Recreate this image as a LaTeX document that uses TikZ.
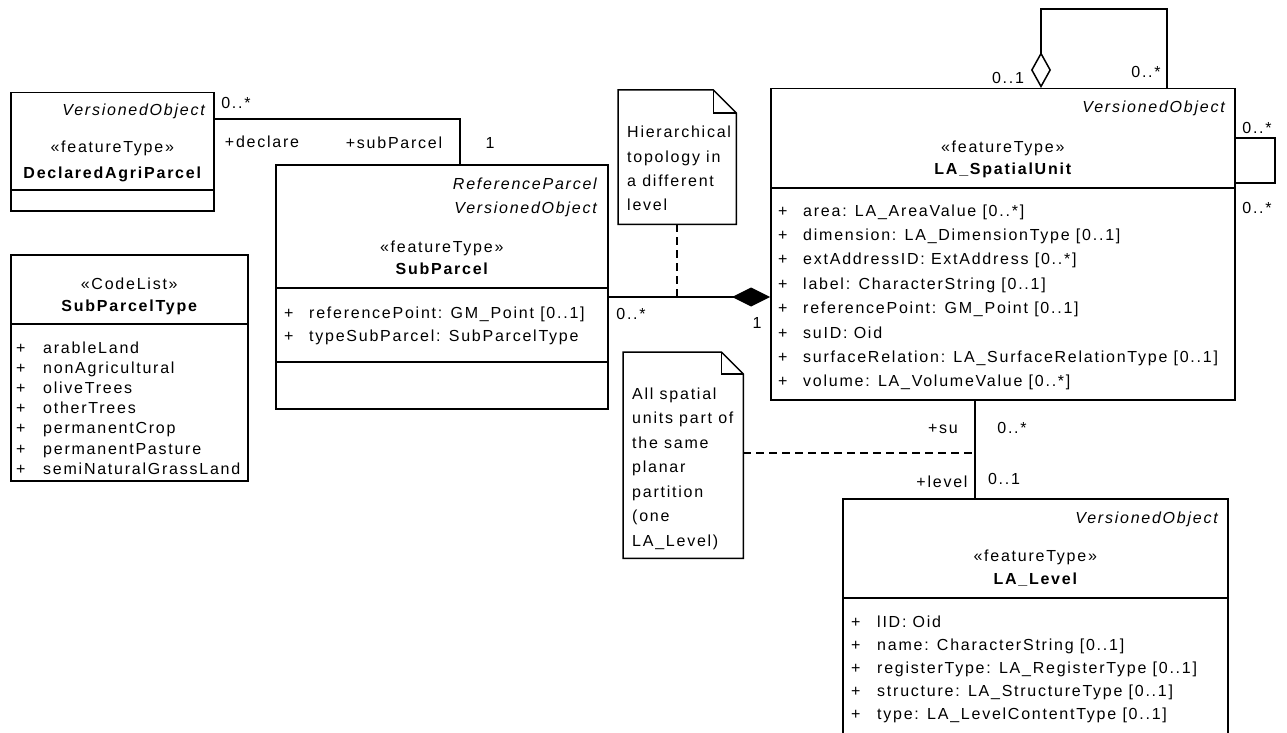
\documentclass[tikz,border=0pt]{standalone}
\usepackage{fontspec}
\setmainfont{Liberation Sans}[LetterSpace=11]
\usetikzlibrary{positioning,arrows.meta}
\tikzset{
  cls/.style={draw, line width=1.5pt, anchor=north west, inner sep=0pt},
  nte/.style={anchor=north west, inner sep=0pt},
  tx/.style={inner sep=0pt, anchor=base},
  txl/.style={inner sep=0pt, anchor=base west},
  txr/.style={inner sep=0pt, anchor=base east},
  ln/.style={line width=1.5pt},
  comp/.style={line width=1.5pt, -{Diamond[length=38pt,width=19pt]}},
  aggr/.style={line width=1.5pt, {Diamond[open,fill=white,length=36pt,width=20pt]}-},
  lnk/.style={line width=1.5pt, dash pattern=on 8pt off 5pt},
  umldiag/.style={x=1pt, y=-1pt, font=\fontsize{16}{19}\selectfont}
}

\begin{document}
\begin{tikzpicture}[umldiag]
\useasboundingbox (0,0) rectangle (1287,733);

% class boxes
\node[cls, minimum width=203pt, minimum height=118pt] (dap) at (10,92) {};
\node[cls, minimum width=237pt, minimum height=226pt] (spt) at (10,254) {};
\node[cls, minimum width=332pt, minimum height=244pt] (sp) at (275,164) {};
\node[cls, minimum width=464pt, minimum height=311pt] (su) at (770,88) {};
\node[cls, minimum width=385pt, minimum height=260pt] (lv) at (842,498) {};

% DeclaredAgriParcel
\node[txr] at (205,116) {\itshape VersionedObject};
\node[tx] at (dap.north |- 0,153) {«featureType»};
\node[tx] at (dap.north |- 0,178) {\bfseries DeclaredAgriParcel};
\draw[ln] (dap.west |- 0,190) -- (dap.east |- 0,190);

% SubParcelType
\node[tx] at (spt.north |- 0,289) {«CodeList»};
\node[tx] at (spt.north |- 0,311) {\bfseries SubParcelType};
\draw[ln] (spt.west |- 0,324) -- (spt.east |- 0,324);
\foreach \a [count=\i from 0] in {{arableLand},{nonAgricultural},{oliveTrees},{otherTrees},{permanentCrop},{permanentPasture},{semiNaturalGrassLand}}{
  \node[txl] at (16,353+20.2*\i) {+};
  \node[txl] at (43,353+20.2*\i) {\a};
}

% SubParcel
\node[txr] at (597,189) {\itshape ReferenceParcel};
\node[txr] at (597,213) {\itshape VersionedObject};
\node[tx] at (sp.north |- 0,252) {«featureType»};
\node[tx] at (sp.north |- 0,274) {\bfseries SubParcel};
\draw[ln] (sp.west |- 0,288) -- (sp.east |- 0,288);
\foreach \a [count=\i from 0] in {{referencePoint: GM\_Point [0..1]},{typeSubParcel: SubParcelType}}{
  \node[txl] at (284,318+23*\i) {+};
  \node[txl] at (309,318+23*\i) {\a};
}
\draw[ln] (sp.west |- 0,362) -- (sp.east |- 0,362);

% LA_SpatialUnit
\node[txr] at (1225,113) {\itshape VersionedObject};
\node[tx] at (su.north |- 0,152) {«featureType»};
\node[tx] at (su.north |- 0,174) {\bfseries LA\_SpatialUnit};
\draw[ln] (su.west |- 0,188) -- (su.east |- 0,188);
\foreach \a [count=\i from 0] in {{area: LA\_AreaValue [0..*]},{dimension: LA\_DimensionType [0..1]},{extAddressID: ExtAddress [0..*]},{label: CharacterString [0..1]},{referencePoint: GM\_Point [0..1]},{suID: Oid},{surfaceRelation: LA\_SurfaceRelationType [0..1]},{volume: LA\_VolumeValue [0..*]}}{
  \node[txl] at (778,216+24.4*\i) {+};
  \node[txl] at (803,216+24.4*\i) {\a};
}

% LA_Level
\node[txr] at (1218,523) {\itshape VersionedObject};
\node[tx] at (lv.north |- 0,561) {«featureType»};
\node[tx] at (lv.north |- 0,584) {\bfseries LA\_Level};
\draw[ln] (lv.west |- 0,598) -- (lv.east |- 0,598);
\foreach \a [count=\i from 0] in {{lID: Oid},{name: CharacterString [0..1]},{registerType: LA\_RegisterType [0..1]},{structure: LA\_StructureType [0..1]},{type: LA\_LevelContentType [0..1]}}{
  \node[txl] at (851,627+23*\i) {+};
  \node[txl] at (877,627+23*\i) {\a};
}

% notes
\node[nte, minimum width=118pt, minimum height=134pt] (n1) at (618,90) {};
\draw[ln] (n1.north west) -- ([xshift=-23pt]n1.north east) -- ([yshift=-23pt]n1.north east)
  -- (n1.south east) -- (n1.south west) -- cycle;
\draw[ln] ([xshift=-23pt]n1.north east) -- ([xshift=-23pt,yshift=-23pt]n1.north east) -- ([yshift=-23pt]n1.north east);
\foreach \a [count=\i from 0] in {{Hierarchical},{topology in},{a different},{level}}
  \node[txl] at (627,138+24.3*\i) {\a};

\node[nte, minimum width=120pt, minimum height=206pt] (n2) at (623,352) {};
\draw[ln] (n2.north west) -- ([xshift=-22pt]n2.north east) -- ([yshift=-22pt]n2.north east)
  -- (n2.south east) -- (n2.south west) -- cycle;
\draw[ln] ([xshift=-22pt]n2.north east) -- ([xshift=-22pt,yshift=-22pt]n2.north east) -- ([yshift=-22pt]n2.north east);
\foreach \a [count=\i from 0] in {{All spatial},{units part of},{the same},{planar},{partition},{(one},{LA\_Level)}}
  \node[txl] at (632,399+24.5*\i) {\a};

% connectors
\coordinate (b1) at (460,119);
\coordinate (c2) at (0,297);
\coordinate (sl) at (975,453);
\coordinate (t1) at (1041,9);
\coordinate (t2) at (1167,9);
\coordinate (r1) at (1275,138);
\coordinate (r2) at (1275,183);

\draw[ln] (dap.east |- b1) -| (sp.north -| b1);
\draw[comp] (sp.east |- c2) -- (su.west |- c2);
\draw[aggr] (su.north -| t1) -- (t1) -- (t2) -- (su.north -| t2);
\draw[ln] (su.east |- r1) -- (r1) -- (r2) -- (su.east |- r2);
\draw[ln] (su.south -| sl) -- (lv.north -| sl);
\draw[lnk] (n1.south) -- (n1.south |- c2);
\draw[lnk] (n2.east |- sl) -- (sl);

% role names and multiplicities
\node[tx] at (236,109) {0..*};
\node[tx] at (262,147) {+declare};
\node[tx] at (394,149) {+subParcel};
\node[tx] at (490,149) {1};
\node[tx] at (631,319) {0..*};
\node[tx] at (757,328) {1};
\node[tx] at (1008,84) {0..1};
\node[tx] at (1146,78) {0..*};
\node[tx] at (1257,133) {0..*};
\node[tx] at (1257,213) {0..*};
\node[tx] at (943,433) {+su};
\node[tx] at (1012,433) {0..*};
\node[tx] at (942,487) {+level};
\node[tx] at (1004,484) {0..1};
\end{tikzpicture}
\end{document}
